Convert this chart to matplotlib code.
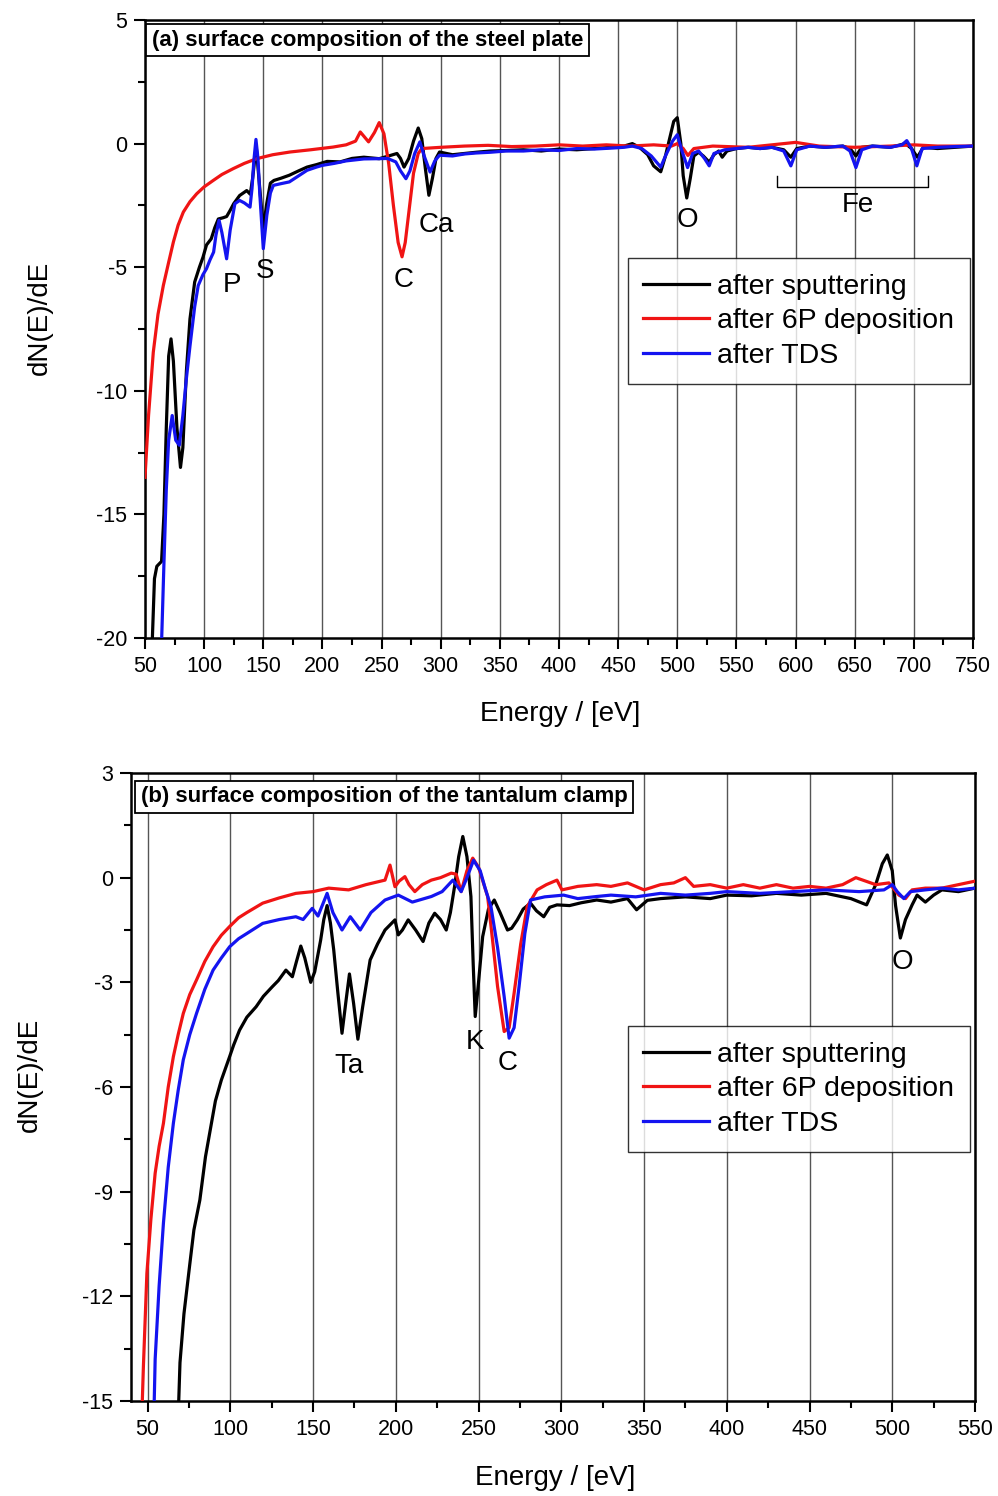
import matplotlib
matplotlib.use("Agg")
import matplotlib.pyplot as plt
from matplotlib.ticker import MultipleLocator, FixedLocator

plt.rcParams['font.family'] = ['Liberation Sans', 'DejaVu Sans']
plt.rcParams['axes.unicode_minus'] = False

# ---------------- data: panel (a) steel plate ----------------
a_sput_E = [55.5, 58, 60, 64, 66, 68, 70, 72, 74, 77, 80, 82, 85, 88, 92, 96, 99, 102, 106, 109, 112, 116,
            119, 122, 125, 130, 133, 136, 139, 141, 144, 147, 150, 153, 156, 159, 165, 172, 180, 187, 195,
            204, 215, 225, 235, 248, 256, 263, 266, 269, 273, 277, 281, 284, 287, 290, 293, 296, 299, 310,
            320, 330, 342, 355, 370, 385, 400, 415, 430, 445, 455, 462, 468, 475, 480, 486, 490, 494, 497,
            500, 503, 505, 508, 511, 514, 518, 522, 527, 531, 535, 538, 542, 550, 560, 570, 580, 590, 596,
            601, 612, 625, 640, 646, 651, 656, 665, 680, 693, 698, 703, 708, 720, 735, 750]
a_sput_y = [-21, -17.6, -17.1, -16.9, -15, -11.5, -8.6, -7.9, -8.8, -11.5, -13.1, -12.3, -9.2, -7.1, -5.6,
            -5.0, -4.6, -4.1, -3.85, -3.4, -3.05, -3.0, -2.95, -2.7, -2.43, -2.1, -2.0, -1.9, -2.05, -1.4,
            -0.1, -1.8, -3.44, -2.4, -1.6, -1.49, -1.4, -1.28, -1.1, -0.95, -0.85, -0.72, -0.74, -0.6, -0.55,
            -0.61, -0.5, -0.4, -0.6, -0.95, -0.6, 0.1, 0.63, 0.2, -1.0, -2.09, -1.4, -0.6, -0.34, -0.45,
            -0.4, -0.35, -0.3, -0.28, -0.25, -0.3, -0.22, -0.25, -0.2, -0.15, -0.1, 0.0, -0.15, -0.45, -0.9,
            -1.14, -0.5, 0.3, 0.9, 1.05, 0.0, -1.3, -2.2, -1.4, -0.5, -0.35, -0.5, -0.75, -0.45, -0.3, -0.55,
            -0.3, -0.2, -0.15, -0.2, -0.15, -0.25, -0.55, -0.2, -0.1, -0.15, -0.1, -0.2, -0.5, -0.15, -0.1,
            -0.15, 0.0, -0.2, -0.55, -0.15, -0.2, -0.15, -0.1]

a_dep_E = [50, 53, 57, 61, 65.5, 70, 74, 78, 82.4, 88, 93.7, 100, 107.7, 115, 124.7, 134, 144.4, 158, 172.6,
           190, 209, 220, 228, 232, 235, 239, 244, 248, 252, 256, 260, 264, 267.3, 270, 273, 277, 281, 284,
           300, 320, 340, 360, 380, 400, 420, 440, 460, 480, 495, 500, 505, 509, 514, 530, 560, 580, 600,
           620, 650, 680, 700, 720, 750]
a_dep_y = [-13.5, -11.0, -8.44, -6.9, -5.74, -4.8, -3.98, -3.3, -2.77, -2.35, -2.03, -1.75, -1.49, -1.25,
           -1.01, -0.8, -0.61, -0.45, -0.34, -0.25, -0.14, -0.05, 0.1, 0.47, 0.3, 0.07, 0.45, 0.85, 0.4, -0.8,
           -2.5, -4.0, -4.58, -4.0, -2.8, -1.2, -0.4, -0.2, -0.15, -0.1, -0.07, -0.12, -0.1, -0.05, -0.1,
           -0.05, -0.1, -0.05, -0.1, 0.0, -0.2, -0.48, -0.2, -0.1, -0.15, -0.05, 0.05, -0.1, -0.15, -0.1,
           -0.05, -0.1, -0.1]

a_tds_E = [63.5, 66, 68, 70, 73, 76, 79, 82, 85, 88, 92, 95, 99, 102, 105, 108, 110, 112.6, 115, 119, 122,
           126, 130, 134, 138.8, 140.5, 142, 143.8, 145.5, 147, 150, 153, 156, 158.5, 165, 172, 180, 187,
           195, 200, 210, 220, 235, 248, 255, 262, 266, 270.6, 274, 278, 282.4, 286, 291, 295, 299, 310,
           320, 330, 342, 355, 370, 385, 400, 415, 430, 445, 455, 462, 470, 478, 486, 490, 496, 500, 504,
           508.7, 513, 518, 523, 527, 531, 540, 550, 560, 570, 580, 590, 596, 601, 612, 625, 640, 646, 651,
           656, 665, 680, 690, 694, 698, 702.5, 707, 720, 735, 750]
a_tds_y = [-21, -17, -14, -12, -11.0, -12.0, -12.2, -11.0, -9.5, -8.2, -6.6, -5.74, -5.3, -5.06, -4.7,
           -4.39, -3.7, -3.1, -3.6, -4.66, -3.5, -2.43, -2.3, -2.4, -2.57, -1.8, -0.7, 0.17, -0.6, -2.0,
           -4.25, -2.9, -2.0, -1.69, -1.62, -1.55, -1.3, -1.08, -0.95, -0.88, -0.8, -0.7, -0.62, -0.61,
           -0.6, -0.74, -1.1, -1.42, -1.1, -0.4, 0.07, -0.5, -1.15, -0.7, -0.47, -0.5, -0.42, -0.38, -0.35,
           -0.3, -0.3, -0.25, -0.28, -0.2, -0.22, -0.18, -0.15, -0.1, -0.2, -0.5, -0.95, -0.5, 0.1, 0.36,
           -0.3, -0.97, -0.4, -0.3, -0.6, -0.9, -0.4, -0.25, -0.2, -0.15, -0.2, -0.15, -0.3, -0.9, -0.25,
           -0.1, -0.15, -0.1, -0.3, -0.97, -0.25, -0.1, -0.15, -0.05, 0.12, -0.2, -0.9, -0.2, -0.15, -0.12,
           -0.1]

a_labels = ['P', 'S', 'C', 'Ca', 'O', 'Fe']
a_label_E = [123.5, 151.4, 268.8, 296.7, 508.2, 652.7]
a_label_y = [-5.71, -5.15, -5.51, -3.28, -3.08, -2.47]
fe_bracket_E = [584.4, 584.4, 711.8, 711.8]
fe_bracket_y = [-1.32, -1.74, -1.74, -1.32]

# ---------------- data: panel (b) tantalum clamp ----------------
b_sput_E = [68.5, 69.6, 72, 75.6, 78, 81.6, 85, 88.6, 91, 94.6, 99.6, 102, 105.6, 110, 115.6, 120, 125.5,
            129, 133.6, 137.5, 140, 142.6, 145, 148.6, 151, 154.6, 156.5, 158.5, 160.5, 162.5, 165, 167.5,
            170, 172, 174.5, 177.1, 180, 184.5, 189, 193.5, 199.5, 201.5, 204, 207.5, 212, 216.5, 220,
            223.5, 227, 230.5, 233, 235.5, 238, 240.5, 243, 245.4, 246.8, 248, 250, 252.5, 256, 259.5, 263,
            267.5, 270, 273.4, 277, 281.4, 285, 289.4, 293, 297.4, 305, 312, 321.4, 330, 340, 345.5, 352,
            360, 375, 390, 400, 415, 430, 445, 460, 475, 484.5, 490, 494, 497, 500, 502, 504.9, 508, 512,
            515, 520, 525, 530, 540, 550]
b_sput_y = [-15.5, -13.9, -12.5, -11.05, -10.1, -9.24, -8.0, -7.04, -6.4, -5.8, -5.13, -4.8, -4.37, -4.0,
            -3.70, -3.4, -3.12, -2.95, -2.65, -2.84, -2.4, -1.96, -2.3, -3.0, -2.7, -1.79, -1.2, -0.8, -1.3,
            -2.07, -3.3, -4.46, -3.5, -2.76, -3.6, -4.63, -3.7, -2.36, -1.9, -1.5, -1.21, -1.64, -1.5,
            -1.21, -1.5, -1.83, -1.3, -1.02, -1.2, -1.5, -1.0, -0.26, 0.6, 1.18, 0.6, -0.54, -2.5, -3.98,
            -3.0, -1.69, -0.9, -0.64, -1.0, -1.5, -1.45, -1.21, -0.9, -0.73, -0.95, -1.12, -0.85, -0.78,
            -0.8, -0.72, -0.64, -0.7, -0.6, -0.92, -0.65, -0.6, -0.55, -0.6, -0.5, -0.52, -0.45, -0.5,
            -0.45, -0.6, -0.78, -0.2, 0.4, 0.65, 0.2, -0.8, -1.73, -1.2, -0.78, -0.5, -0.7, -0.5, -0.35,
            -0.4, -0.3]

b_dep_E = [46.5, 47.5, 49.6, 52, 54.6, 57, 59.6, 62.5, 65.6, 68.5, 71.6, 75.5, 79.6, 84.6, 89.6, 94.6,
           99.6, 105, 110, 119.6, 129.6, 139.6, 150, 159.5, 171.5, 182, 193.5, 196.5, 199.5, 202, 205.5,
           208, 211.5, 216, 221.5, 227, 233.5, 236.5, 239.5, 243, 246.5, 250, 255.5, 258.5, 261.5, 265.5,
           268.5, 271.5, 275.5, 279.4, 285.4, 291, 297.4, 300.4, 310, 321.4, 330, 340, 350, 360, 368, 375,
           380, 390, 400, 410, 420, 430, 440, 450, 460, 470, 478, 490, 498, 504, 508, 512, 520, 530, 540,
           550]
b_dep_y = [-15.5, -14, -11.34, -9.8, -8.47, -7.7, -7.04, -6.0, -5.13, -4.5, -3.89, -3.35, -2.93, -2.4,
           -1.98, -1.65, -1.40, -1.15, -1.0, -0.73, -0.58, -0.45, -0.4, -0.30, -0.35, -0.2, -0.07, 0.36,
           -0.26, -0.1, 0.03, -0.2, -0.4, -0.2, -0.07, 0.0, 0.13, 0.1, -0.4, 0.2, 0.56, 0.3, -0.54, -1.8,
           -3.12, -4.41, -4.3, -3.31, -1.9, -0.83, -0.35, -0.2, -0.07, -0.35, -0.25, -0.2, -0.25, -0.15,
           -0.35, -0.2, -0.15, 0.0, -0.25, -0.2, -0.3, -0.2, -0.3, -0.2, -0.3, -0.25, -0.3, -0.2, 0.0,
           -0.2, -0.15, -0.5, -0.6, -0.35, -0.3, -0.3, -0.2, -0.1]

b_tds_E = [53.8, 54.6, 57, 59.6, 62.5, 65.6, 68.5, 71.6, 75.5, 79.6, 84.6, 89.6, 94.6, 99.6, 105, 110,
           119.6, 129.6, 139.6, 144, 149.5, 153, 158.5, 162, 167.5, 172.5, 178.5, 185, 193.5, 201.5, 210,
           221.5, 228, 234.5, 239.5, 243, 247, 251, 254, 257.5, 261.5, 265.5, 268.5, 271.5, 274.5, 278,
           281.4, 290, 301.4, 310, 321.4, 330, 345, 360, 375, 390, 400, 420, 440, 460, 480, 495, 500, 503,
           507, 511, 520, 530, 540, 550]
b_tds_y = [-15.5, -13.8, -11.7, -9.9, -8.3, -7.04, -6.1, -5.22, -4.5, -3.89, -3.2, -2.65, -2.3, -1.98,
           -1.75, -1.6, -1.31, -1.2, -1.12, -1.2, -0.88, -1.1, -0.45, -1.0, -1.5, -1.12, -1.5, -1.0, -0.64,
           -0.5, -0.7, -0.54, -0.4, -0.07, -0.4, 0.0, 0.5, 0.2, -0.3, -0.83, -2.0, -3.41, -4.6, -4.3,
           -3.12, -1.6, -0.64, -0.55, -0.5, -0.6, -0.54, -0.5, -0.55, -0.45, -0.5, -0.45, -0.4, -0.45,
           -0.4, -0.35, -0.4, -0.35, -0.2, -0.4, -0.6, -0.4, -0.35, -0.3, -0.35, -0.3]

b_labels = ['Ta', 'K', 'C', 'O']
b_label_E = [171.5, 247.7, 267.5, 506]
b_label_y = [-5.4, -4.71, -5.31, -2.42]

series_names = ['after sputtering', 'after 6P deposition', 'after TDS']
series_colors = ['black', '#f01414', '#1414f0']

# ---------------- figure ----------------
W, H = 998, 1496
fig = plt.figure(figsize=(W / 100, H / 100), dpi=100)

ax1 = fig.add_axes([145 / W, 1 - 638 / H, (973 - 145) / W, (638 - 20) / H])
ax2 = fig.add_axes([131 / W, 1 - 1401 / H, (975 - 131) / W, (1401 - 773) / H])

LW = 2.3


def style(ax, xlim, ylim, ymaj, ymin):
    ax.set_xlim(*xlim)
    ax.set_ylim(*ylim)
    ax.xaxis.set_major_locator(MultipleLocator(50))
    ax.xaxis.set_minor_locator(MultipleLocator(25))
    ax.yaxis.set_major_locator(MultipleLocator(ymaj))
    ax.yaxis.set_minor_locator(MultipleLocator(ymin))
    ax.tick_params(which='major', direction='out', length=8, width=1.5, labelsize=15.5, pad=5)
    ax.tick_params(which='minor', direction='out', length=5, width=1.5)
    for s in ax.spines.values():
        s.set_linewidth(1.8)
    ax.grid(axis='x', which='major', color='#555555', lw=1.0)
    ax.set_axisbelow(True)


style(ax1, (50, 750), (-20, 5), 5, 2.5)
style(ax2, (40, 550), (-15, 3), 3, 1.5)
ax2.xaxis.set_major_locator(FixedLocator(list(range(50, 551, 50))))
ax2.xaxis.set_minor_locator(FixedLocator(list(range(75, 551, 50))))

for ax, data in [(ax1, [(a_sput_E, a_sput_y), (a_dep_E, a_dep_y), (a_tds_E, a_tds_y)]),
                 (ax2, [(b_sput_E, b_sput_y), (b_dep_E, b_dep_y), (b_tds_E, b_tds_y)])]:
    for (E, y), name, c in zip(data, series_names, series_colors):
        ax.plot(E, y, color=c, lw=LW, label=name, zorder=3, solid_joinstyle='round')

for lab, e, y in zip(a_labels, a_label_E, a_label_y):
    ax1.text(e, y, lab, fontsize=20, ha='center', va='center', zorder=5)
ax1.plot(fe_bracket_E, fe_bracket_y, color='black', lw=1.0, zorder=4)
for lab, e, y in zip(b_labels, b_label_E, b_label_y):
    ax2.text(e, y, lab, fontsize=20, ha='center', va='center', zorder=5)

box = dict(boxstyle='square,pad=0.25', fc='white', ec='black', lw=1.3)
ax1.text(0.0085, 0.984, '(a) surface composition of the steel plate', transform=ax1.transAxes,
         fontsize=16, fontweight='bold', ha='left', va='top', bbox=box, zorder=6)
ax2.text(0.0118, 0.979, '(b) surface composition of the tantalum clamp', transform=ax2.transAxes,
         fontsize=16, fontweight='bold', ha='left', va='top', bbox=box, zorder=6)

leg_kw = dict(fontsize=20.5, frameon=True, fancybox=False, edgecolor='black', handlelength=2.3,
              handletextpad=0.3, labelspacing=0.3, borderpad=0.55, borderaxespad=0.0)
l1 = ax1.legend(loc='upper right', bbox_to_anchor=(0.9964, 0.615), **leg_kw)
l1.get_frame().set_linewidth(1.0)
l1.set_zorder(7)
l2 = ax2.legend(loc='upper right', bbox_to_anchor=(0.994, 0.597), **leg_kw)
l2.get_frame().set_linewidth(1.0)
l2.set_zorder(7)

fig.text(40 / W, 1 - 318 / H, 'dN(E)/dE', rotation=90, fontsize=20, ha='center', va='center')
fig.text(30 / W, 1 - 1075 / H, 'dN(E)/dE', rotation=90, fontsize=20, ha='center', va='center')
fig.text(560 / W, 1 - 714 / H, 'Energy / [eV]', fontsize=20, ha='center', va='center')
fig.text(555 / W, 1 - 1478 / H, 'Energy / [eV]', fontsize=20, ha='center', va='center')

fig.savefig('out.png', dpi=100)
